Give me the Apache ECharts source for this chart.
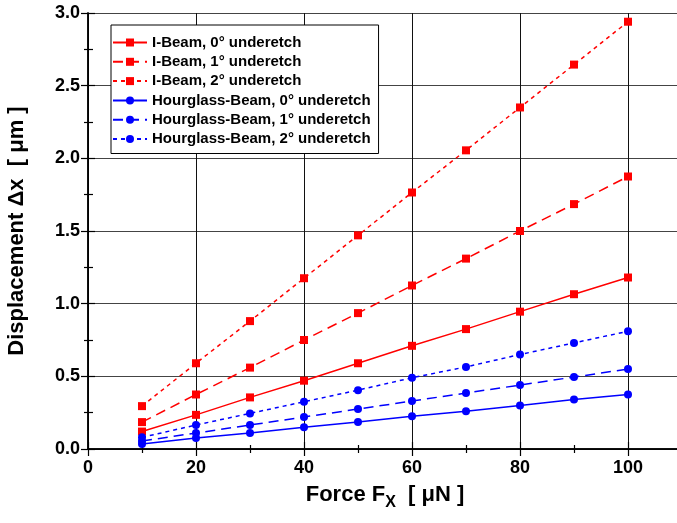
<!DOCTYPE html>
<html>
<head>
<meta charset="utf-8">
<script src="https://cdn.jsdelivr.net/npm/echarts@6/dist/echarts.min.js"></script>
<style>
  html, body { margin: 0; padding: 0; background: #fff; }
  #main { width: 677px; height: 523px; }
</style>
</head>
<body>
<div id="main"></div>
<script>
var chartDom = document.getElementById('main');
var myChart = echarts.init(chartDom);
var option;

// force values (µN)
const force = [10, 20, 30, 40, 50, 60, 70, 80, 90, 100];

// displacement (µm)
const iBeam0 = [0.12, 0.235, 0.355, 0.47, 0.59, 0.71, 0.825, 0.945, 1.065, 1.18];
const iBeam1 = [0.185, 0.375, 0.56, 0.75, 0.935, 1.125, 1.31, 1.5, 1.685, 1.875];
const iBeam2 = [0.295, 0.59, 0.88, 1.175, 1.47, 1.765, 2.055, 2.35, 2.645, 2.94];
const hgBeam0 = [0.035, 0.075, 0.11, 0.15, 0.185, 0.225, 0.26, 0.3, 0.34, 0.375];
const hgBeam1 = [0.055, 0.11, 0.165, 0.22, 0.275, 0.33, 0.385, 0.44, 0.495, 0.55];
const hgBeam2 = [0.08, 0.165, 0.245, 0.325, 0.405, 0.49, 0.565, 0.65, 0.73, 0.81];

const names = [
  'I-Beam, 0° underetch',
  'I-Beam, 1° underetch',
  'I-Beam, 2° underetch',
  'Hourglass-Beam, 0° underetch',
  'Hourglass-Beam, 1° underetch',
  'Hourglass-Beam, 2° underetch'
];

const RED = '#ff0000';
const BLUE = '#0000ff';
const FONT = 'Liberation Sans';

function pairs(vals) {
  return force.map((f, i) => [f, vals[i]]);
}

function makeSeries(name, vals, color, symbol, dash) {
  return {
    name: name,
    type: 'line',
    data: pairs(vals),
    symbol: symbol,
    symbolSize: 8,
    color: color,
    lineStyle: { color: color, width: 1.5, type: dash },
    itemStyle: { color: color },
    animation: false
  };
}

const tickStyle = { color: '#000', width: 1.2 };

option = {
  animation: false,
  textStyle: { fontFamily: FONT },
  grid: {
    left: 88,
    top: 13,
    width: 594,
    height: 436,
    containLabel: false,
    outerBoundsMode: 'none'
  },
  legend: {
    orient: 'vertical',
    left: 111,
    top: 25,
    backgroundColor: '#fff',
    borderColor: '#000',
    borderWidth: 1,
    borderRadius: 0,
    padding: [10, 8, 7, 1],
    itemWidth: 34,
    itemHeight: 10,
    itemGap: 4.3,
    textStyle: { fontFamily: FONT, fontSize: 15, fontWeight: 'bold', color: '#000' },
    data: names
  },
  xAxis: [
    {
      type: 'value',
      min: 0,
      max: 110,
      interval: 20,
      position: 'bottom',
      name: '{a|Force F}{s|X}{a|  [ μN ]}',
      nameLocation: 'middle',
      nameGap: 30,
      nameTextStyle: {
        rich: {
          a: { fontFamily: FONT, fontSize: 22, fontWeight: 'bold', color: '#000' },
          s: { fontFamily: FONT, fontSize: 16, fontWeight: 'bold', color: '#000', padding: [16, 0, 0, 0] }
        }
      },
      axisLine: { lineStyle: { color: '#000', width: 1.5 } },
      axisTick: { inside: true, length: 7, lineStyle: tickStyle },
      minorTick: { show: true, splitNumber: 2, length: 4, lineStyle: tickStyle },
      axisLabel: {
        margin: 10,
        fontFamily: FONT,
        fontSize: 18,
        fontWeight: 'bold',
        color: '#000',
        formatter: v => (v % 20 === 0 ? String(v) : '')
      },
      splitLine: { show: true, lineStyle: { color: '#111', width: 1 } }
    },
    {
      type: 'value',
      min: 0,
      max: 110,
      interval: 20,
      position: 'top',
      axisLine: { lineStyle: { color: '#000', width: 1.5 } },
      axisTick: { inside: true, length: 7, lineStyle: tickStyle },
      minorTick: { show: true, splitNumber: 2, length: 4, lineStyle: tickStyle },
      axisLabel: { show: false },
      splitLine: { show: false }
    }
  ],
  yAxis: [
    {
      type: 'value',
      min: 0,
      max: 3,
      interval: 0.5,
      position: 'left',
      name: 'Displacement Δx  [ μm ]',
      nameLocation: 'middle',
      nameGap: 60,
      nameTextStyle: { fontFamily: FONT, fontSize: 22, fontWeight: 'bold', color: '#000' },
      axisLine: { show: true, lineStyle: { color: '#000', width: 1.5 } },
      axisTick: { show: true, inside: true, length: 7, lineStyle: tickStyle },
      minorTick: { show: true, splitNumber: 2, length: 5, lineStyle: tickStyle },
      axisLabel: {
        margin: 8,
        fontFamily: FONT,
        fontSize: 18,
        fontWeight: 'bold',
        color: '#000',
        formatter: v => v.toFixed(1)
      },
      splitLine: { show: true, lineStyle: { color: '#444', width: 1 } }
    },
    {
      type: 'value',
      min: 0,
      max: 3,
      interval: 0.5,
      position: 'right',
      axisLine: { show: true, lineStyle: { color: '#000', width: 1.5 } },
      axisTick: { show: true, inside: true, length: 7, lineStyle: tickStyle },
      minorTick: { show: true, splitNumber: 2, length: 4, lineStyle: tickStyle },
      axisLabel: { show: false },
      splitLine: { show: false }
    }
  ],
  series: [
    makeSeries(names[0], iBeam0, RED, 'rect', 'solid'),
    makeSeries(names[1], iBeam1, RED, 'rect', [10, 6]),
    makeSeries(names[2], iBeam2, RED, 'rect', [4, 4]),
    makeSeries(names[3], hgBeam0, BLUE, 'circle', 'solid'),
    makeSeries(names[4], hgBeam1, BLUE, 'circle', [10, 6]),
    makeSeries(names[5], hgBeam2, BLUE, 'circle', [4, 4])
  ]
};

option && myChart.setOption(option);
</script>
</body>
</html>
